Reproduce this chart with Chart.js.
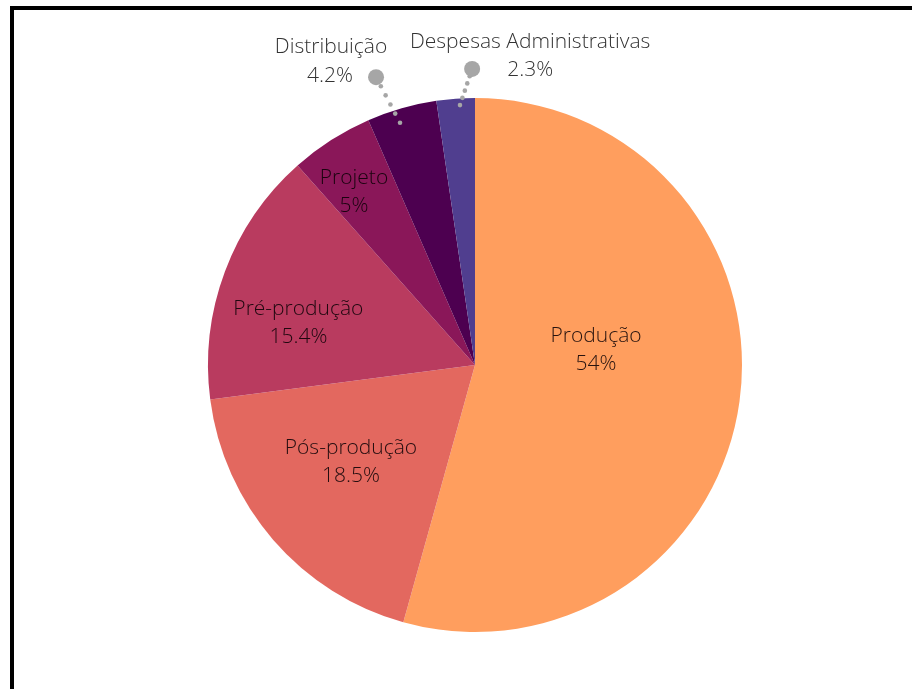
<!DOCTYPE html>
<html>
<head>
<meta charset="utf-8">
<script src="https://cdn.jsdelivr.net/npm/chart.js@4.4.0/dist/chart.umd.min.js"></script>
<style>
    html, body { margin: 0; padding: 0; background: #fff; overflow: hidden; }
    #frame {
        position: absolute; left: 10px; top: 6px; width: 1000px; height: 800px;
        border-left: 4px solid #000; border-top: 4px solid #000;
    }
    #wrap { position: absolute; left: 0; top: 0; width: 912px; height: 689px; }
</style>
</head>
<body>
<div id="frame"></div>
<div id="wrap"><canvas id="pieChart"></canvas></div>
<script>
// dados do gráfico
const categorias = ['Produção', 'Pós-produção', 'Pré-produção', 'Projeto', 'Distribuição', 'Despesas Administrativas'];
const percentuais = [54, 18.5, 15.4, 5, 4.2, 2.3];
const cores = ['#FF9E5E', '#E3685F', '#B93B5F', '#8A1759', '#4D0050', '#503E8F'];

// rótulos: dentro da fatia (raio relativo) ou fora com linha pontilhada
const rotulos = [
    { dentro: true, raio: 0.457, desvio: -0.26 },
    { dentro: true, raio: 0.59, desvio: 0.05 },
    { dentro: true, raio: 0.68, desvio: -0.123 },
    { dentro: true, raio: 0.79, desvio: -0.042 },
    { dentro: false, r0: 0.95, r1: 1.14, d0: -0.022, d1: -0.053, lado: 'esq' },
    { dentro: false, r0: 0.975, r1: 1.109, d0: 0.015, d1: 0.063, lado: 'dir' }
];

const fonte = '300 21px "Open Sans", sans-serif';

const pluginRotulos = {
    id: 'rotulos',
    afterDatasetsDraw(chart) {
        const ctx = chart.ctx;
        const meta = chart.getDatasetMeta(0);
        ctx.save();
        ctx.font = fonte;
        ctx.textAlign = 'center';
        ctx.textBaseline = 'middle';
        meta.data.forEach((arc, i) => {
            const p = arc.getProps(['x', 'y', 'startAngle', 'endAngle', 'outerRadius'], true);
            const cfg = rotulos[i];
            const meio = (p.startAngle + p.endAngle) / 2;
            const texto2 = percentuais[i] + '%';
            if (cfg.dentro) {
                const r = p.outerRadius * cfg.raio;
                const x = p.x + Math.cos(meio + cfg.desvio) * r;
                const y = p.y + Math.sin(meio + cfg.desvio) * r;
                ctx.fillStyle = 'rgba(10,0,5,0.88)';
                ctx.fillText(categorias[i], x, y - 14);
                ctx.fillText(texto2, x, y + 14);
            } else {
                const xa = p.x + Math.cos(meio + cfg.d0) * p.outerRadius * cfg.r0;
                const ya = p.y + Math.sin(meio + cfg.d0) * p.outerRadius * cfg.r0;
                const xb = p.x + Math.cos(meio + cfg.d1) * p.outerRadius * cfg.r1;
                const yb = p.y + Math.sin(meio + cfg.d1) * p.outerRadius * cfg.r1;
                // linha pontilhada
                ctx.fillStyle = '#a6a6a6';
                const passos = 5;
                for (let k = 0; k < passos; k++) {
                    const t = k / passos;
                    ctx.beginPath();
                    ctx.arc(xa + (xb - xa) * t, ya + (yb - ya) * t, 2.3, 0, Math.PI * 2);
                    ctx.fill();
                }
                ctx.beginPath();
                ctx.arc(xb, yb, 8, 0, Math.PI * 2);
                ctx.fill();
                ctx.fillStyle = '#333';
                if (cfg.lado === 'esq') {
                    ctx.fillText(categorias[i], xb - 45, yb - 30);
                    ctx.fillText(texto2, xb - 46, yb - 1);
                } else {
                    ctx.fillText(categorias[i], xb + 58, yb - 27);
                    ctx.fillText(texto2, xb + 58, yb + 1);
                }
            }
        });
        ctx.restore();
    }
};

document.addEventListener('DOMContentLoaded', () => {
    const ctx = document.getElementById('pieChart').getContext('2d');
    new Chart(ctx, {
        type: 'pie',
        data: {
            labels: categorias,
            datasets: [{
                data: percentuais,
                backgroundColor: cores,
                borderWidth: 0
            }]
        },
        options: {
            responsive: true,
            maintainAspectRatio: false,
            animation: false,
            layout: { padding: { left: 208, right: 170, top: 98, bottom: 57 } },
            plugins: {
                legend: { display: false },
                tooltip: { enabled: false }
            }
        },
        plugins: [pluginRotulos]
    });
});
</script>
</body>
</html>
